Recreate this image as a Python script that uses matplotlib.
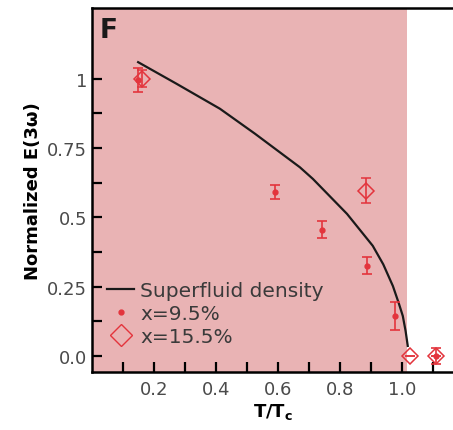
import matplotlib.pyplot as plt
from matplotlib.ticker import FixedLocator

# superfluid density curve
sf_t = [0.149, 0.273, 0.413, 0.526, 0.671, 0.713, 0.823, 0.906, 0.94, 0.971,
        0.99, 1.003, 1.012, 1.019]
sf_y = [1.059, 0.981, 0.891, 0.801, 0.680, 0.638, 0.512, 0.397, 0.33, 0.252,
        0.19, 0.144, 0.09, 0.036]

# x = 9.5 %
t95 = [0.148, 0.59, 0.742, 0.887, 0.978, 1.11]
y95 = [0.995, 0.59, 0.455, 0.325, 0.145, 0.0]
e95 = [0.042, 0.025, 0.03, 0.03, 0.05, 0.03]

# x = 15.5 %
t155 = [0.16, 0.884, 1.026, 1.11]
y155 = [1.0, 0.595, 0.0, 0.0]
e155 = [0.03, 0.045, 0.0, 0.0]

red = '#e3343c'
pink = '#e9b3b4'

fig = plt.figure(figsize=(4.53, 4.31), dpi=100)
ax = fig.add_axes([0.203, 0.1346, 0.797, 0.845])

ax.axvspan(0, 1.016, color=pink, lw=0, zorder=0)

ln, = ax.plot(sf_t, sf_y, color='#1a1a1a', lw=1.6, zorder=3)
ax.errorbar(t95, y95, yerr=e95, fmt='o', ms=3.5, color=red, ecolor=red,
            elinewidth=1.2, capsize=3.5, capthick=1.2, zorder=4)
ax.errorbar(t155, y155, yerr=e155, fmt='D', ms=8.5, mfc='none', mec=red,
            mew=1.1, color=red, ecolor=red, elinewidth=1.2, capsize=3.5,
            capthick=1.2, zorder=4)

## legend handles
h_dot, = ax.plot([], [], 'o', ms=3.5, color=red)
h_dia, = ax.plot([], [], 'D', ms=11, mfc='none', mec=red, mew=1.0)
leg = ax.legend([ln, h_dot, h_dia], ['Superfluid density', 'x=9.5%', 'x=15.5%'],
                loc='center left', bbox_to_anchor=(0.02, 0.16), frameon=False,
                fontsize=14.5, handlelength=1.35, handletextpad=0.3,
                labelspacing=0.2, borderaxespad=0)
for txt in leg.get_texts():
    txt.set_color('#3a3a3a')

ax.set_xlim(0, 1.165)
ax.set_ylim(-0.058, 1.255)

ax.xaxis.set_major_locator(FixedLocator([0.2, 0.4, 0.6, 0.8, 1.0]))
ax.xaxis.set_minor_locator(FixedLocator([0.1, 0.3, 0.5, 0.7, 0.9, 1.1]))
ax.set_xticklabels(['0.2', '0.4', '0.6', '0.8', '1.0'])
ax.yaxis.set_major_locator(FixedLocator([0.0, 0.25, 0.5, 0.75, 1.0]))
ax.yaxis.set_minor_locator(FixedLocator([0.125, 0.375, 0.625, 0.875]))
ax.set_yticklabels(['0.0', '0.25', '0.5', '0.75', '1'])

ax.tick_params(which='both', direction='in', length=7, width=1.6,
               labelsize=13, labelcolor='#4a4a4a', top=False, right=False)
ax.tick_params(axis='x', pad=6)

for s in ['left', 'bottom', 'top']:
    ax.spines[s].set_linewidth(1.8)
ax.spines['right'].set_visible(False)

ax.set_xlabel(r'T/T$_\mathbf{c}$', fontsize=13, fontweight='bold', labelpad=2)
ax.set_ylabel('Normalized E(3ω)', fontsize=13, fontweight='bold', labelpad=4)

ax.text(0.02, 0.975, 'F', transform=ax.transAxes, fontsize=19,
        fontweight='bold', color='#1a1a1a', va='top', ha='left')

fig.savefig('out.png', dpi=100)
